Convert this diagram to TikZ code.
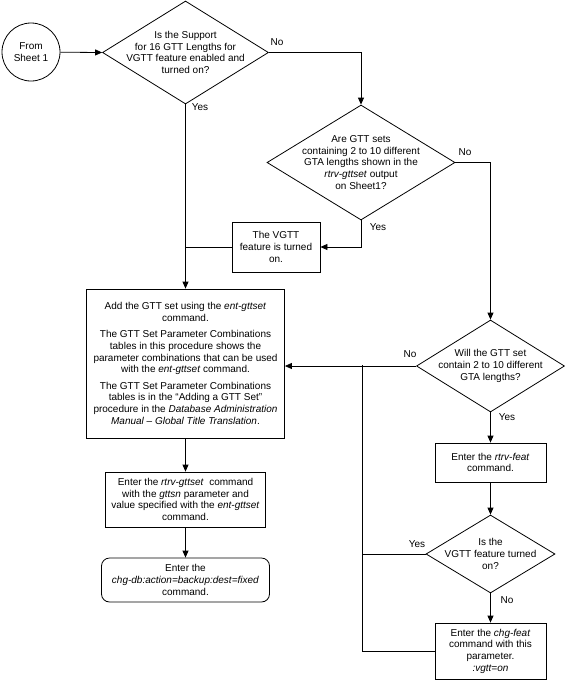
\documentclass[tikz,border=0pt]{standalone}
\usepackage{fontspec}
\setmainfont{Liberation Sans}
\usetikzlibrary{shapes.geometric,arrows.meta}
\begin{document}
\begin{tikzpicture}[x=1pt,y=-1pt,
  every node/.style={font=\fontsize{10}{11.7}\selectfont},
  ln/.style={draw=black,line width=0.8pt},
  arr/.style={ln,-{Triangle[length=7pt,width=6pt]}},
  boxn/.style={ln,rectangle,inner sep=0pt},
  dia/.style={ln,diamond,inner sep=0pt},
  txt/.style={align=center,inner sep=0pt},
  lab/.style={inner sep=0pt}]
\useasboundingbox (0,0) rectangle (565,681);
% start
\node[ln,circle,minimum size=58pt,inner sep=0pt,align=center] (c1) at (31,52) {From\\Sheet 1};
% diamonds
\node[dia,minimum width=166pt,minimum height=103pt] (d1) at (185.5,52.5) {};
\node[txt] (d1t) at (d1) {Is the Support\\for 16 GTT Lengths for\\VGTT feature enabled and\\turned on?};
\node[dia,minimum width=188pt,minimum height=115pt] (d2) at (361,162.5) {};
\node[txt] (d2t) at (d2) {Are GTT sets\\containing 2 to 10 different\\GTA lengths shown in the\\\textit{rtrv-gttset} output\\on Sheet1?};
\node[dia,minimum width=148pt,minimum height=92pt] (d3) at (490.5,366) {};
\node[txt] (d3t) at (d3) {Will the GTT set\\contain 2 to 10 different\\GTA lengths?};
\node[dia,minimum width=129pt,minimum height=78pt] (d4) at (490.5,554) {};
\node[txt] (d4t) at (d4) {Is the\\VGTT feature turned\\on?};
% boxes
\node[boxn,minimum width=88pt,minimum height=50pt,align=center] (vg) at (276,247) {The VGTT\\feature is turned\\on.};
\node[boxn,minimum width=198pt,minimum height=149pt,align=center] (big) at (185.5,363.5) {Add the GTT set using the \textit{ent-gttset}\\command.\\[4.5pt]The GTT Set Parameter Combinations\\tables in this procedure shows the\\parameter combinations that can be used\\with the \textit{ent-gttset} command.\\[4.5pt]The GTT Set Parameter Combinations\\tables is in the “Adding a GTT Set”\\procedure in the \textit{Database Administration}\\\textit{Manual – Global Title Translation}.};
\node[boxn,minimum width=160pt,minimum height=55pt,align=center] (rg) at (185.5,499.5) {Enter the \textit{rtrv-gttset}\ \ command\\with the \textit{gttsn} parameter and\\value specified with the \textit{ent-gttset}\\command.};
\node[boxn,rounded corners=8pt,minimum width=168pt,minimum height=44pt,align=center] (db) at (185.5,580) {Enter the\\\textit{chg-db:action=backup:dest=fixed}\\command.};
\node[boxn,minimum width=111pt,minimum height=39pt,align=center] (rf) at (490.5,462.5) {Enter the \textit{rtrv-feat}\\command.};
\node[boxn,minimum width=111pt,minimum height=56pt,align=center] (cf) at (490.5,651) {Enter the \textit{chg-feat}\\command with this\\parameter.\\\textit{:vgtt=on}};
% junctions
\coordinate (j1) at (362,365);
\coordinate (j2) at (362,554);
\coordinate (j3) at (362,651);
% connectors
\draw[arr] (c1) -- (d1.west);
\draw[arr] (d1.east) -| (d2.north);
\draw[arr] (d2.south) |- (vg.east);
\draw[ln] (vg.west) -- (vg.west -| big.north);
\draw[arr] (d1.south) -- (big.north);
\draw[arr] (d2.east) -| (d3.north);
\draw[arr] (d3.west) -- (big.east |- d3.west);
\draw[arr] (d3.south) -- (rf.north);
\draw[arr] (rf.south) -- (d4.north);
\draw[arr] (d4.south) -- (cf.north);
\draw[ln] (d4.west) -- (j2);
\draw[ln] (cf.west) -- (j3) -- (j1);
\draw[arr] (big.south) -- (rg.north);
\draw[arr] (rg.south) -- (db.north);
% labels
\node[lab] (l1) at (277,42) {No};
\node[lab] (l2) at (200,107) {Yes};
\node[lab] (l3) at (378,227) {Yes};
\node[lab] (l4) at (465,152) {No};
\node[lab] (l5) at (410,354) {No};
\node[lab] (l6) at (507,417) {Yes};
\node[lab] (l7) at (417,544) {Yes};
\node[lab] (l8) at (507,600) {No};
\end{tikzpicture}
\end{document}
